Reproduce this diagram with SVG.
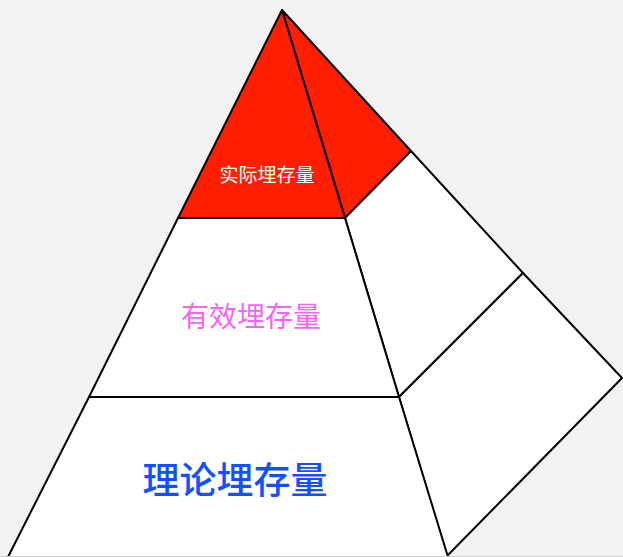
<svg xmlns="http://www.w3.org/2000/svg" width="623" height="557" viewBox="0 0 623 557">
<style>
.face{stroke:#000;stroke-width:2;stroke-linejoin:round}
.red{fill:#ff1e00}
.white{fill:#fff}
.t{font-family:"Noto Sans CJK SC","Noto Sans",sans-serif;text-anchor:middle;dominant-baseline:central}
</style>
<rect width="623" height="557" fill="#f2f2f2"/>
<g id="right-top"><polygon class="face red" points="282,10 411,151 345,218"/></g>
<g id="right-middle"><polygon class="face white" points="411,151 523,273 399,397 345,218"/></g>
<g id="right-bottom"><polygon class="face white" points="523,273 622,378 447,556 399,397"/></g>
<g id="top"><polygon class="face red" points="282,10 345,218 178,218"/>
<text class="t" x="267" y="173" font-size="19" fill="#fff">实际埋存量</text></g>
<g id="middle"><polygon class="face white" points="178,218 345,218 399,397 89,397"/>
<text class="t" x="251" y="315" font-size="28" fill="#f564f5">有效埋存量</text></g>
<g id="bottom"><polygon class="face white" points="89,397 399,397 448,557 8,557"/>
<text class="t" x="235" y="478" font-size="37" font-weight="500" fill="#1450ff">理论埋存量</text></g>
<line x1="0" y1="556.5" x2="623" y2="556.5" stroke="#cfcfcf" stroke-width="1"/>
</svg>
